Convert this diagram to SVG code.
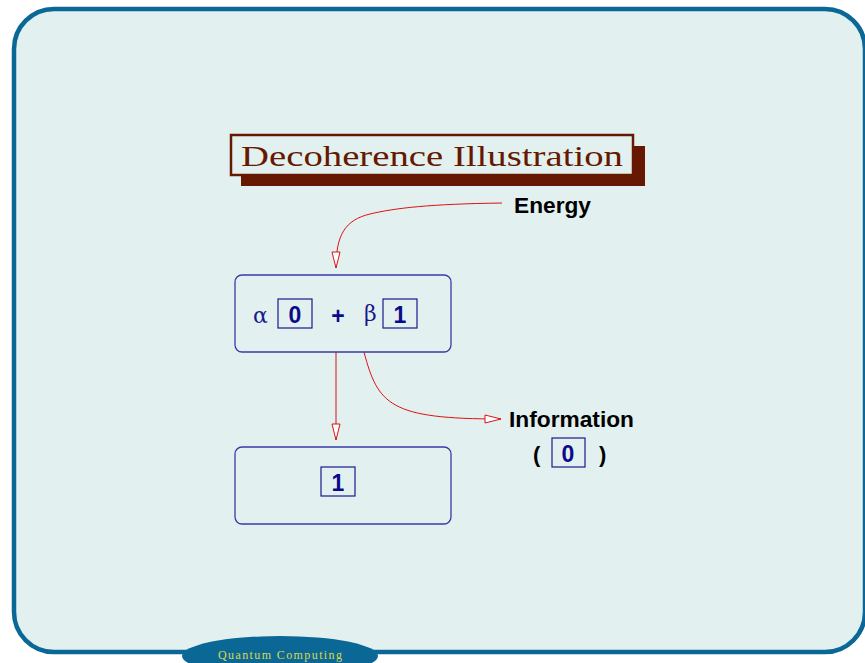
<svg xmlns="http://www.w3.org/2000/svg" width="865" height="663" viewBox="0 0 865 663">
<defs>
<style>
.node{fill:none;stroke:#3a3aa8;stroke-width:1.3}
.dig{fill:none;stroke:#1a1a8a;stroke-width:1.2}
.dt{font-family:"Liberation Sans",Arial,sans-serif;font-weight:bold;font-size:23px;fill:#0a0a8a;text-anchor:middle}
.lbl{font-family:"Liberation Sans",Arial,sans-serif;font-weight:bold;font-size:22px;fill:#000}
.gr{font-family:"DejaVu Serif","Liberation Serif",serif;font-size:22px;fill:#1a1a8a}
.conn{fill:none;stroke:#dd1111;stroke-width:1}
</style>
<marker id="ah" markerWidth="18" markerHeight="10" refX="17" refY="5" orient="auto" markerUnits="userSpaceOnUse">
<path d="M1,1 L17,5 L1,9 Z" fill="#ffffff" stroke="#dd1111" stroke-width="1"/>
</marker>
</defs>
<rect x="0" y="0" width="865" height="663" fill="#ffffff"/>
<rect x="14" y="9" width="851" height="643" rx="40" ry="40" fill="#e2f1f0" stroke="#0b6896" stroke-width="4.5"/>
<g id="title">
<rect x="241" y="146" width="404" height="40" fill="#661900"/>
<rect x="231" y="135" width="402" height="40" fill="#e2f1f0" stroke="#661900" stroke-width="2.5"/>
<text x="241" y="166" font-family="Liberation Serif,'Times New Roman',serif" font-size="29" fill="#661900" textLength="382" lengthAdjust="spacingAndGlyphs">Decoherence Illustration</text>
</g>
<g id="connectors">
<path class="conn" d="M502,203 C430,204 395,208 370,214 C345,220 336,235 336,268" marker-end="url(#ah)"/>
<path class="conn" d="M336,352 L336,440" marker-end="url(#ah)"/>
<path class="conn" d="M364,352 C378,405 390,419 501,419" marker-end="url(#ah)"/>
</g>
<g id="energy">
<text class="lbl" x="514" y="213" textLength="77" lengthAdjust="spacingAndGlyphs">Energy</text>
</g>
<g id="superposition">
<rect class="node" x="235" y="275" width="216" height="77" rx="7"/>
<text class="gr" x="253" y="323">α</text>
<rect class="dig" x="278" y="299" width="34" height="29"/>
<text class="dt" x="295" y="323">0</text>
<text class="dt" x="338" y="324">+</text>
<text class="gr" x="364" y="321">β</text>
<rect class="dig" x="383" y="299" width="34" height="29"/>
<text class="dt" x="400" y="323">1</text>
</g>
<g id="result">
<rect class="node" x="235" y="447" width="216" height="77" rx="7"/>
<rect class="dig" x="321" y="467" width="34" height="29"/>
<text class="dt" x="338" y="491">1</text>
</g>
<g id="information">
<text class="lbl" x="509" y="427" textLength="125" lengthAdjust="spacingAndGlyphs">Information</text>
<text class="lbl" x="533" y="462">(</text>
<rect class="dig" x="552" y="438" width="33" height="29"/>
<text class="dt" x="568" y="462">0</text>
<text class="lbl" x="599" y="462">)</text>
</g>
<g id="footer">
<ellipse cx="280" cy="656" rx="98" ry="20" fill="#0b6896"/>
<text x="218" y="659" font-family="Liberation Serif,'Times New Roman',serif" font-size="12" fill="#d9d94a" textLength="124" lengthAdjust="spacing">Quantum Computing</text>
</g>
</svg>
